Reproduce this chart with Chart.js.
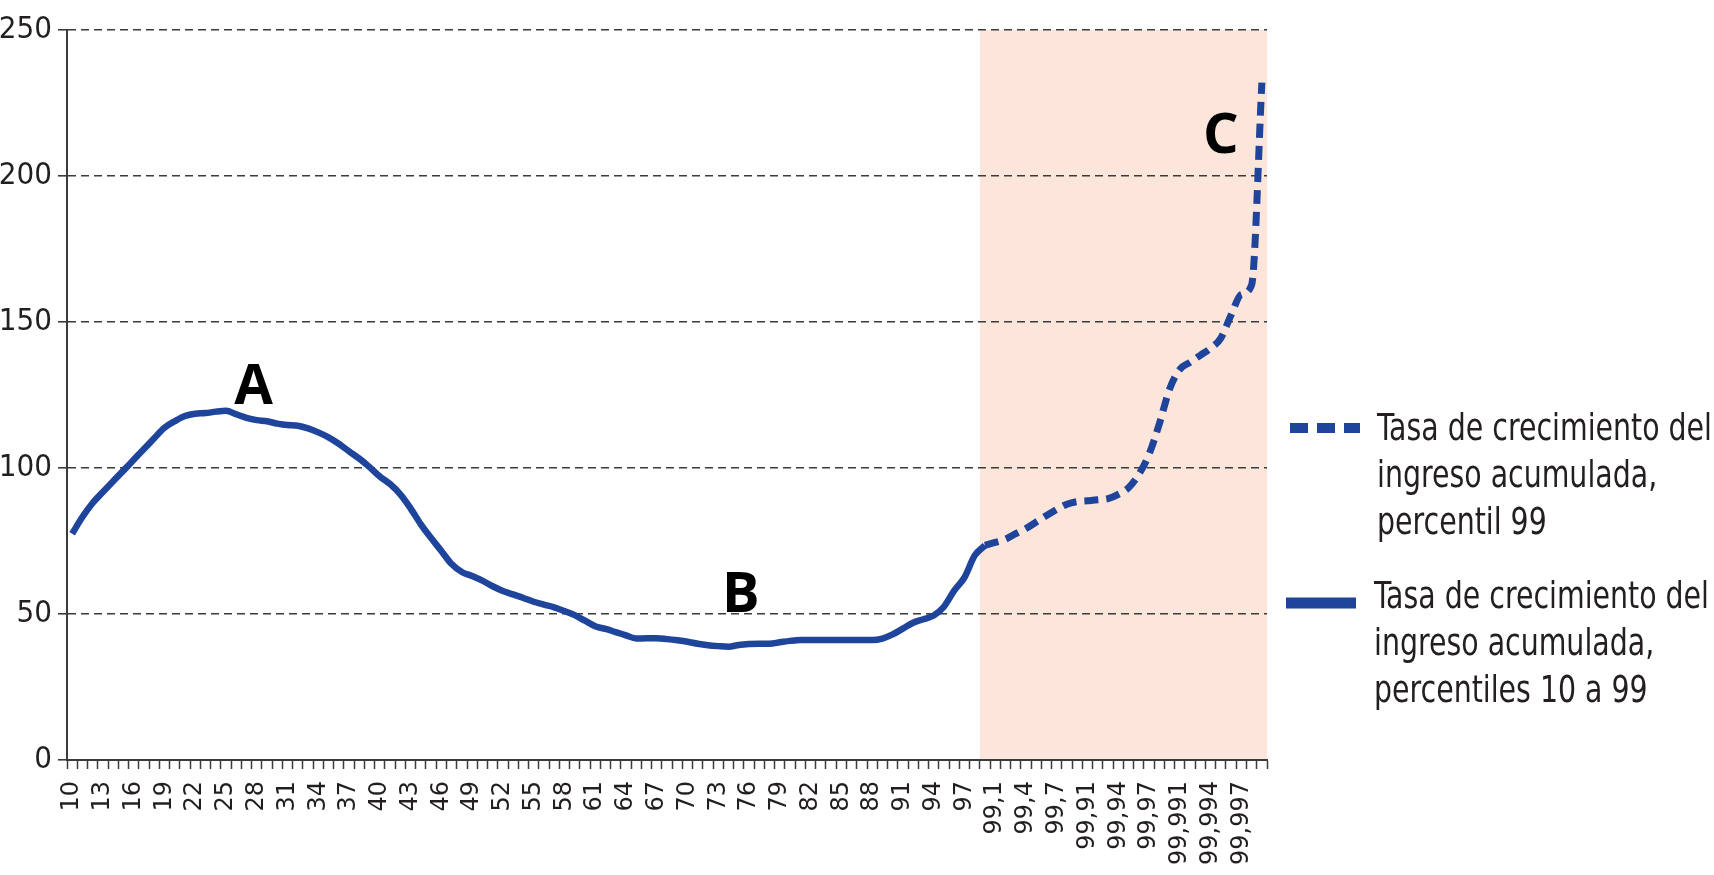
<!DOCTYPE html>
<html lang="es">
<head>
<meta charset="utf-8">
<title>Tasa de crecimiento del ingreso acumulada</title>
<script src="https://cdn.jsdelivr.net/npm/chart.js@4.4.1/dist/chart.umd.min.js"></script>
<style>
  html, body { margin: 0; padding: 0; background: #fff; }
  #wrap { position: relative; width: 1714px; height: 875px; }
</style>
</head>
<body>
<div id="wrap"><canvas id="grafico"></canvas></div>
<script>
// ── Datos ─────────────────────────────────────────────────────────────────────
const PERCENTILES = [
  '10', '11', '12', '13', '14', '15', '16', '17', '18', '19',
  '20', '21', '22', '23', '24', '25', '26', '27', '28', '29',
  '30', '31', '32', '33', '34', '35', '36', '37', '38', '39',
  '40', '41', '42', '43', '44', '45', '46', '47', '48', '49',
  '50', '51', '52', '53', '54', '55', '56', '57', '58', '59',
  '60', '61', '62', '63', '64', '65', '66', '67', '68', '69',
  '70', '71', '72', '73', '74', '75', '76', '77', '78', '79',
  '80', '81', '82', '83', '84', '85', '86', '87', '88', '89',
  '90', '91', '92', '93', '94', '95', '96', '97', '98', '99',
  '99,1', '99,2', '99,3', '99,4', '99,5', '99,6', '99,7', '99,8', '99,9',
  '99,91', '99,92', '99,93', '99,94', '99,95', '99,96', '99,97', '99,98', '99,99',
  '99,991', '99,992', '99,993', '99,994', '99,995', '99,996', '99,997', '99,998', '99,999'
]

// percentiles 10 a 99 (línea continua)
const TASA_P10_P99 = [
  77.5, 83.2, 88.0, 91.8, 95.5, 99.1, 102.8, 106.5, 110.2, 113.8,
  116.0, 117.8, 118.6, 118.8, 119.3, 119.6, 118.4, 117.2, 116.4, 116.0,
  115.2, 114.7, 114.5, 113.6, 112.2, 110.5, 108.3, 105.7, 103.2, 100.3,
  97.1, 94.5, 91.0, 86.2, 80.7, 76.0, 71.6, 67.1, 64.4, 63.0,
  61.4, 59.5, 57.9, 56.7, 55.5, 54.2, 53.2, 52.3, 51.0, 49.6,
  47.7, 45.8, 44.9, 43.8, 42.7, 41.6, 41.7, 41.7, 41.4, 41.0,
  40.5, 39.8, 39.3, 39.0, 38.8, 39.4, 39.7, 39.8, 39.8, 40.3,
  40.8, 41.1, 41.1, 41.1, 41.1, 41.1, 41.1, 41.1, 41.1, 41.6,
  43.0, 45.0, 47.0, 48.2, 49.5, 52.5, 58.0, 62.5, 70.0, 73.5
]

// percentil 99 desagregado, desde '99' hasta '99,999' (línea discontinua)
const TASA_P99 = [
  73.5, 74.5, 75.6, 77.5, 79.3, 81.5, 83.7, 85.8, 87.6, 88.5,
  88.8, 89.1, 89.5, 91.0, 93.2, 97.8, 104.7, 115.1, 127.0, 133.8,
  136.2, 138.6, 141.0, 144.5, 152.4, 159.5, 162.7, 232.0
]

const INICIO_P99 = '99'
const Y_TICKS = [0, 50, 100, 150, 200, 250]

const LEYENDA = [
  ['Tasa de crecimiento del', 'ingreso acumulada,', 'percentil 99'],
  ['Tasa de crecimiento del', 'ingreso acumulada,', 'percentiles 10 a 99']
]

// letras de referencia: posición en índice de categoría y valor del eje
const MARCAS = ['A', 'B', 'C']
const MARCAS_X = [17.7, 65.2, 112.0]
const MARCAS_Y = [122, 50.8, 207.8]

// ── Estilo ────────────────────────────────────────────────────────────────────
const AZUL = '#1f449b'
const TEXTO = '#231f20'
const GRIS = '#3b3b3b'
const SOMBRA = '#fce6dc'
const NARROW = '"Liberation Sans Narrow", "DejaVu Sans Condensed", "Liberation Sans", sans-serif'

const inicioTop = PERCENTILES.indexOf(INICIO_P99)
const serieBase = PERCENTILES.map((_, i) => i < TASA_P10_P99.length ? TASA_P10_P99[i] : null)
const serieTop = PERCENTILES.map((_, i) => i >= inicioTop ? TASA_P99[i - inicioTop] : null)

// ── Plugins ───────────────────────────────────────────────────────────────────
const zonaP99 = {
  id: 'zonaP99',
  beforeDraw(chart) {
    const { ctx, chartArea, scales: { x } } = chart
    const desde = x.getPixelForValue(inicioTop - 0.5)
    ctx.save()
    ctx.fillStyle = SOMBRA
    ctx.fillRect(desde, chartArea.top, chartArea.right - desde, chartArea.bottom - chartArea.top)
    ctx.restore()
  }
}

const letras = {
  id: 'letras',
  afterDatasetsDraw(chart) {
    const { ctx, scales: { x, y } } = chart
    ctx.save()
    ctx.font = 'bold 56px "Open Sans", "Liberation Sans", sans-serif'
    ctx.fillStyle = '#000'
    ctx.textAlign = 'center'
    ctx.textBaseline = 'alphabetic'
    MARCAS.forEach((m, k) => ctx.fillText(m, x.getPixelForValue(MARCAS_X[k]), y.getPixelForValue(MARCAS_Y[k])))
    ctx.restore()
  }
}

const leyenda = {
  id: 'leyenda',
  afterDraw(chart) {
    const { ctx, chartArea } = chart
    const r = chartArea.right
    const filas = [
      { y: 428, x0: r + 23, x1: r + 93, tx: r + 110, base: 440, dash: [18, 9], w: 10 },
      { y: 603, x0: r + 19, x1: r + 89, tx: r + 107, base: 607.5, dash: [], w: 11 }
    ]
    ctx.save()
    ctx.font = '38px ' + NARROW
    const f = Math.min(1, 335 / ctx.measureText(LEYENDA[0][0]).width)
    filas.forEach((fila, k) => {
      ctx.strokeStyle = AZUL
      ctx.lineWidth = fila.w
      ctx.lineCap = 'butt'
      ctx.setLineDash(fila.dash)
      ctx.beginPath()
      ctx.moveTo(fila.x0, fila.y)
      ctx.lineTo(fila.x1, fila.y)
      ctx.stroke()
      ctx.setLineDash([])
      ctx.fillStyle = TEXTO
      ctx.textBaseline = 'alphabetic'
      LEYENDA[k].forEach((linea, j) => {
        ctx.save()
        ctx.translate(fila.tx, fila.base + j * 47)
        ctx.scale(f, 1)
        ctx.fillText(linea, 0, 0)
        ctx.restore()
      })
    })
    ctx.restore()
  }
}

// ── Gráfico ───────────────────────────────────────────────────────────────────
new Chart(document.getElementById('grafico'), {
  type: 'line',
  data: {
    labels: PERCENTILES,
    datasets: [
      {
        label: LEYENDA[1].join(' '),
        data: serieBase,
        borderColor: AZUL,
        borderWidth: 6.5,
        pointRadius: 0,
        cubicInterpolationMode: 'monotone',
        borderJoinStyle: 'round'
      },
      {
        label: LEYENDA[0].join(' '),
        data: serieTop,
        borderColor: AZUL,
        borderWidth: 7,
        borderDash: [14, 8],
        pointRadius: 0,
        cubicInterpolationMode: 'monotone'
      }
    ]
  },
  options: {
    responsive: true,
    maintainAspectRatio: false,
    animation: false,
    layout: { padding: { left: 0, right: 447, top: 30, bottom: 0 } },
    plugins: {
      legend: { display: false },
      tooltip: { enabled: false }
    },
    scales: {
      x: {
        offset: true,
        grid: { offset: true, drawOnChartArea: false, tickLength: 9, tickColor: GRIS, tickWidth: 1.5 },
        border: { color: GRIS, width: 2 },
        ticks: {
          autoSkip: false,
          minRotation: 90,
          maxRotation: 90,
          padding: 12,
          color: TEXTO,
          font: { family: '"DejaVu Sans", sans-serif', size: 24 },
          callback: (v, i) => i % 3 === 0 ? PERCENTILES[i] : ''
        },
        afterFit: s => { s.height = 115 }
      },
      y: {
        min: 0,
        max: 250,
        afterBuildTicks: s => { s.ticks = Y_TICKS.map(v => ({ value: v })) },
        grid: { color: GRIS, lineWidth: 1.6, tickLength: 9, tickColor: GRIS, tickWidth: 1.6 },
        border: { color: GRIS, width: 2, dash: [8, 5] },
        ticks: {
          padding: 6,
          color: TEXTO,
          font: { family: NARROW, size: 31 }
        },
        afterFit: s => { s.width = 67 }
      }
    }
  },
  plugins: [zonaP99, letras, leyenda]
})
</script>
</body>
</html>
